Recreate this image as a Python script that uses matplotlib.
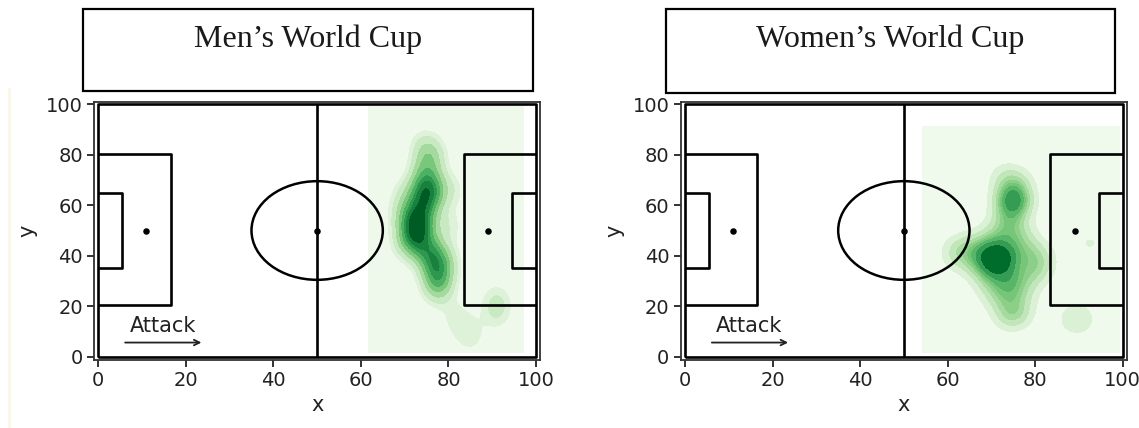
import numpy as np
import matplotlib
matplotlib.use("Agg")
import matplotlib.pyplot as plt
from matplotlib.patches import Ellipse, Rectangle

# Shot locations (pitch coordinates, 0-100 on both axes), attacking left to right
men_x = [72.5, 73, 72.2, 73.4, 72, 73, 72.6, 73.8,
         74.5, 75, 75.5, 74.2, 76, 75.2, 74.8,
         76, 77, 77.8, 77.2, 76.5, 78, 75.5, 77.5,
         75, 76.5, 74.5,
         69.5, 69.8, 70, 80, 79.5, 80.5,
         82, 85,
         91, 91]
men_y = [44, 47, 50, 52, 54, 57, 49, 55,
         61, 64, 67, 70, 66, 72, 62,
         41, 37, 33, 29, 39, 26, 43, 31,
         78, 80, 84,
         56, 45, 64, 52, 38, 66,
         15, 8,
         17, 23]

women_x = [71, 70.5, 71.8, 71.2, 72.3, 70.6,
           68.5, 68, 67, 74, 69, 73, 75, 68.5, 74.5,
           74.5, 75, 74, 75.5, 73.8, 75, 76, 73, 76.5,
           73, 74.5, 76, 72, 77,
           80, 80.5, 79, 81, 78,
           72, 75, 74, 77, 70, 73, 74, 76,
           63, 64, 62,
           89.5, 89.5, 92.5]
women_y = [38.5, 40, 37, 40.5, 39, 36.5,
           42, 35, 40, 34, 32, 44, 40, 46, 30,
           62, 60, 64.5, 63, 58, 67, 70, 72, 61,
           52, 55, 50, 48, 46,
           36, 34, 42, 40, 30,
           22, 18, 25, 24, 27, 30, 15, 17,
           38, 44, 42,
           13.5, 16.5, 45]

panel_titles = ["Men\u2019s World Cup", "Women\u2019s World Cup"]
tick_values = [0, 20, 40, 60, 80, 100]

W, H = 1139, 428
fig = plt.figure(figsize=(W / 100, H / 100), dpi=100)
fig.patch.set_facecolor("white")


def kde_grid(xs, ys, xr, yr, bw, n=220):
    gx = np.linspace(xr[0], xr[1], n)
    gy = np.linspace(yr[0], yr[1], n)
    X, Y = np.meshgrid(gx, gy)
    xs = np.asarray(xs, float)
    ys = np.asarray(ys, float)
    dx = (X[..., None] - xs) / bw[0]
    dy = (Y[..., None] - ys) / bw[1]
    Z = np.exp(-0.5 * (dx ** 2 + dy ** 2)).sum(-1)
    return X, Y, Z / Z.sum()


def iso_levels(Z, n=10):
    props = np.linspace(0, 1, n)
    vals = np.sort(Z.ravel())[::-1]
    cum = np.cumsum(vals) / vals.sum()
    idx = np.searchsorted(cum, 1 - props)
    lev = np.take(vals, idx, mode="clip")
    lev = np.unique(lev)
    lev[0] = Z.min() - 1e-12
    return lev


def draw_pitch(ax):
    kw = dict(color="black", lw=1.9, zorder=3, solid_capstyle="butt")
    ax.plot([0, 0, 100, 100, 0], [0, 100, 100, 0, 0], **kw)
    ax.plot([50, 50], [0, 100], **kw)
    ax.plot([0, 16.5, 16.5, 0], [80.2, 80.2, 20.6, 20.6], **kw)
    ax.plot([100, 83.5, 83.5, 100], [80.2, 80.2, 20.6, 20.6], **kw)
    ax.plot([0, 5.5, 5.5, 0], [65, 65, 35, 35], **kw)
    ax.plot([100, 94.5, 94.5, 100], [65, 65, 35, 35], **kw)
    ax.add_patch(Ellipse((50, 50), 30, 39, fill=False, ec="black", lw=1.8, zorder=3))
    ax.scatter([11, 50, 89], [50, 50, 50], s=22, c="black", zorder=4, linewidths=0)
    ax.annotate("", xy=(24.2, 5.7), xytext=(5.5, 5.7),
                arrowprops=dict(arrowstyle="->", lw=1.3, color="#222222"), zorder=4)
    ax.text(14.7, 12.3, "Attack", ha="center", va="center", fontsize=15, color="#222222")


panels = [
    dict(xs=men_x, ys=men_y, xr=(61.8, 97.1), yr=(1.6, 99.2), bw=(2.6, 5.2),
         left=93.9),
    dict(xs=women_x, ys=women_y, xr=(54.3, 99.3), yr=(1.6, 91.3), bw=(2.9, 4.3),
         left=680.6),
]

box_px = [(83, 9, 533, 91), (666, 9, 1115, 93)]

for p, title, box in zip(panels, panel_titles, box_px):
    ax = fig.add_axes([p["left"] / W, (H - 359.5) / H, 446.5 / W, 258 / H])
    X, Y, Z = kde_grid(p["xs"], p["ys"], p["xr"], p["yr"], p["bw"])
    ax.contourf(X, Y, Z, levels=iso_levels(Z), cmap="Greens", zorder=1)
    draw_pitch(ax)
    ax.set_xlim(-1, 101)
    ax.set_ylim(-1, 101)
    ax.set_xticks(tick_values)
    ax.set_yticks(tick_values)
    ax.tick_params(labelsize=14, length=5, width=1.3, colors="#222222", pad=3)
    for s in ax.spines.values():
        s.set_color("#333333")
        s.set_linewidth(1.3)
    ax.set_xlabel("x", fontsize=15, color="#222222", labelpad=4)
    ax.set_ylabel("y", fontsize=15, color="#222222", labelpad=6)

    x0, y0, x1, y1 = box
    fig.add_artist(Rectangle((x0 / W, 1 - y1 / H), (x1 - x0) / W, (y1 - y0) / H,
                             transform=fig.transFigure, facecolor="white",
                             edgecolor="black", lw=1.6))
    fig.text((x0 + x1) / 2 / W, 1 - 39 / H, title, ha="center", va="center",
             fontsize=23, family="Liberation Serif", color="#1a1a1a")

# thin cream strip along the left margin
fig.add_artist(Rectangle((8 / W, 0), 3 / W, 1 - 88 / H, transform=fig.transFigure,
                         facecolor="#fdf7ea", edgecolor="none"))

fig.savefig("out.png", dpi=100)
